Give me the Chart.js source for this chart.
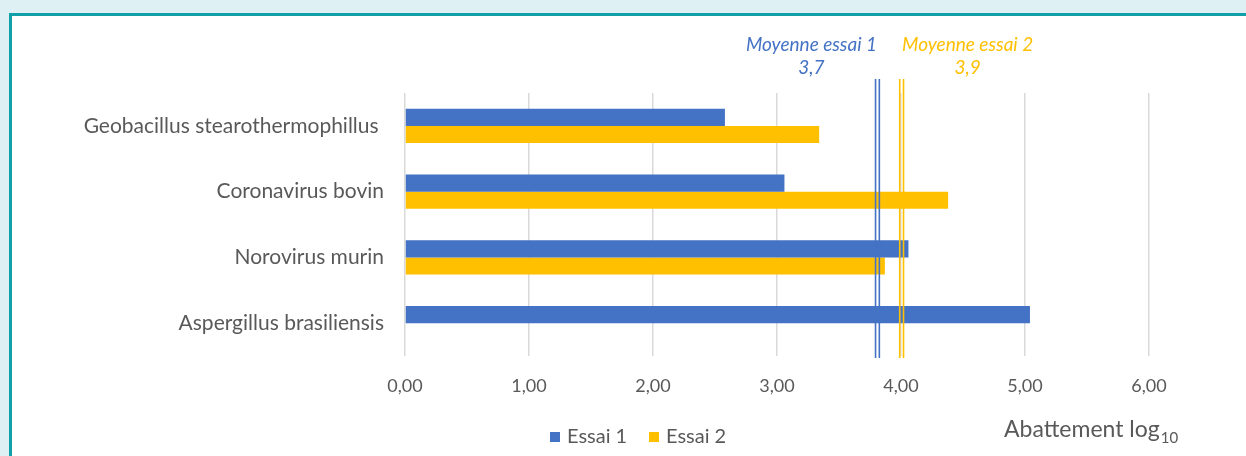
<!DOCTYPE html>
<html>
<head>
<meta charset="utf-8">
<script src="https://cdn.jsdelivr.net/npm/chart.js@4"></script>
<style>
  html, body { margin: 0; padding: 0; background: #dff0f4; overflow: hidden; }
  #frame {
    position: absolute; left: 9px; top: 13px; width: 1300px; height: 500px;
    background: #ffffff; border: 3px solid #11a0a8; box-sizing: border-box;
  }
  #chart { position: absolute; left: 0; top: 0; }
</style>
</head>
<body>
<div id="frame"></div>
<canvas id="chart" width="1246" height="456"></canvas>
<script>
const categories = ['Geobacillus stearothermophillus ', 'Coronavirus bovin', 'Norovirus murin', 'Aspergillus brasiliensis'];
const essai1 = [2.58, 3.06, 4.06, 5.04];
const essai2 = [3.34, 4.38, 3.87, null];
const seriesNames = ['Essai 1', 'Essai 2'];
const seriesColors = ['#4472c4', '#ffc000'];
const meanPositions = [3.81, 4.005];
const meanTitles = ['Moyenne essai 1', 'Moyenne essai 2'];
const meanLabels = ['3,7', '3,9'];
const xTicks = [0, 1, 2, 3, 4, 5, 6];

const FONT = 'Lato, "Open Sans", sans-serif';
const GREY = '#595959';

// mean lines, labels, legend and axis title
const extras = {
  id: 'extras',
  afterDatasetsDraw(chart) {
    const ctx = chart.ctx;
    const x = chart.scales.x;
    const area = chart.chartArea;
    ctx.save();
    meanPositions.forEach((v, i) => {
      const px = x.getPixelForValue(v);
      ctx.strokeStyle = seriesColors[i];
      ctx.lineWidth = 1.6;
      [-1.9, 1.9].forEach(off => {
        ctx.beginPath();
        ctx.moveTo(px + off, 79);
        ctx.lineTo(px + off, area.bottom + 2);
        ctx.stroke();
      });
      ctx.fillStyle = seriesColors[i];
      ctx.font = 'italic 19px ' + FONT;
      ctx.textBaseline = 'middle';
      ctx.textAlign = 'center';
      const cx = i === 0 ? px - 66 : px + 66;
      ctx.fillText(meanTitles[i], cx, 45);
      ctx.fillText(meanLabels[i], cx, 68);
    });

    // legend
    ctx.font = '20px ' + FONT;
    ctx.textAlign = 'left';
    ctx.textBaseline = 'middle';
    let lx = 550;
    seriesNames.forEach((n, i) => {
      ctx.fillStyle = seriesColors[i];
      ctx.fillRect(lx, 432, 10, 10);
      ctx.fillStyle = GREY;
      ctx.fillText(n, lx + 17, 437);
      lx += 99;
    });

    // axis title
    ctx.font = '23px ' + FONT;
    ctx.fillStyle = GREY;
    ctx.textBaseline = 'alphabetic';
    const t = 'Abattement log';
    ctx.fillText(t, 1004, 437);
    const w = ctx.measureText(t).width;
    ctx.font = '15px ' + FONT;
    ctx.fillText('10', 1004 + w + 1, 443);
    ctx.restore();
  }
};

new Chart(document.getElementById('chart'), {
  type: 'bar',
  data: {
    labels: categories,
    datasets: [
      { label: seriesNames[0], data: essai1, backgroundColor: seriesColors[0] },
      { label: seriesNames[1], data: essai2, backgroundColor: seriesColors[1] }
    ]
  },
  options: {
    indexAxis: 'y',
    responsive: false,
    devicePixelRatio: 1,
    animation: false,
    categoryPercentage: 0.52,
    barPercentage: 1,
    layout: { padding: { left: 0, top: 93, right: 97, bottom: 0 } },
    plugins: { legend: { display: false }, tooltip: { enabled: false } },
    scales: {
      x: {
        min: 0, max: 6,
        afterBuildTicks: s => { s.ticks = xTicks.map(v => ({ value: v })); },
        afterFit: s => { s.height = 100; },
        grid: { color: '#d9d9d9', lineWidth: 1.5, drawTicks: false },
        border: { display: false },
        ticks: {
          padding: 19,
          color: GREY,
          font: { family: FONT, size: 18 },
          callback: v => v.toFixed(2).replace('.', ',')
        }
      },
      y: {
        afterFit: s => { s.width = 405; },
        grid: { display: false },
        border: { display: false },
        ticks: {
          padding: 13,
          color: GREY,
          font: { family: FONT, size: 21 }
        }
      }
    }
  },
  plugins: [extras]
});
</script>
</body>
</html>
